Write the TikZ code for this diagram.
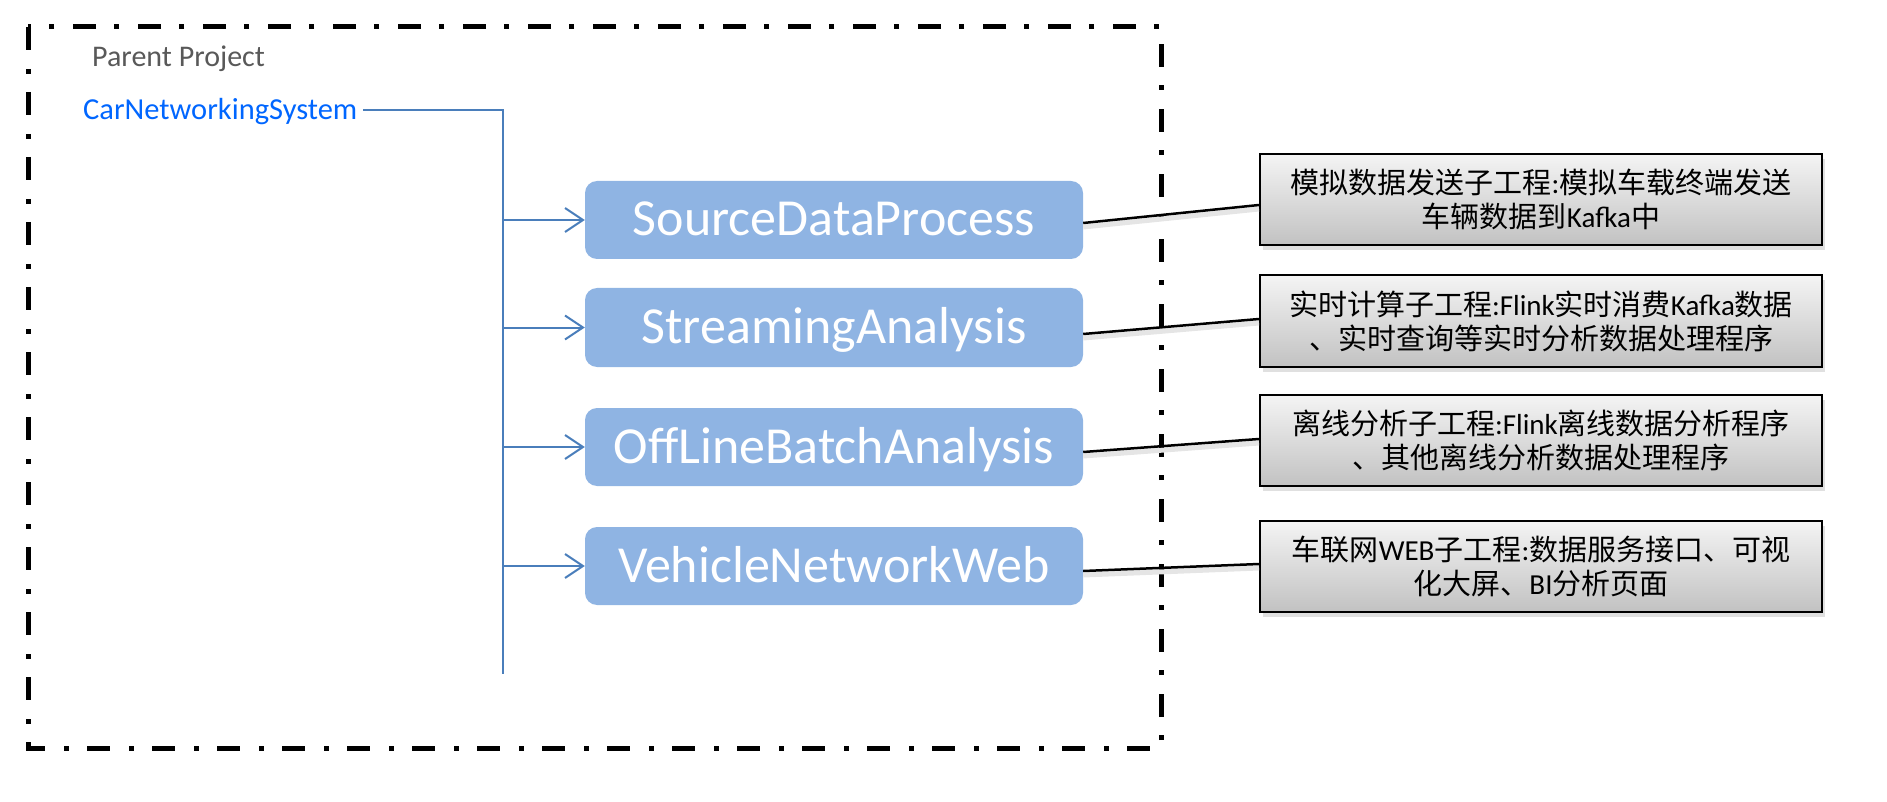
\documentclass[tikz,border=0pt]{standalone}
\usepackage{fontspec}
\setmainfont{Carlito}
\newfontfamily\cjk{Noto Sans CJK SC}
\usetikzlibrary{arrows.meta,shadows}
\definecolor{boxblue}{HTML}{8FB4E3}
\definecolor{linkblue}{HTML}{4A7EBB}
\definecolor{titlegray}{HTML}{595959}
\definecolor{nameblue}{HTML}{0066FF}
\definecolor{noteTop}{HTML}{F4F4F4}
\definecolor{noteBot}{HTML}{C2C2C2}
\newcommand\latn[1]{{\rmfamily #1}}
\begin{document}
\begin{tikzpicture}[x=1pt,y=-1pt,
  subbox/.style={rectangle, rounded corners=12pt, fill=boxblue, text=white,
    font=\fontsize{52}{60}\selectfont, minimum width=498pt, minimum height=78pt,
    inner sep=0pt, text height=32pt, text depth=0pt},
  notebox/.style={rectangle, draw=black, line width=2pt, top color=noteTop,
    bottom color=noteBot, minimum width=562pt, minimum height=91pt, inner sep=0pt,
    align=center, font=\cjk\fontsize{29}{34}\selectfont,
    drop shadow={shadow xshift=3pt, shadow yshift=-5pt, fill=black, opacity=0.12}},
  branch/.style={draw=linkblue, line width=2pt},
  barb/.style={branch, -{Straight Barb[length=18pt,width=24pt]}},
  link/.style={draw=black, line width=2.5pt,
    preaction={draw=black!10, line width=5pt, transform canvas={yshift=-4pt}}},
  frame/.style={draw=black, line width=5pt, dash pattern=on 23pt off 19pt on 5pt off 18pt},
  label/.style={anchor=base west, inner sep=0pt}
]
\useasboundingbox (0,0) rectangle (1887,802);
\draw[frame] (28,27) rectangle (1161,748);

\node[label, text=titlegray, font=\fontsize{30}{36}\selectfont] (parent) at (92,67) {Parent Project};
\node[label, text=nameblue, font=\fontsize{30.5}{36}\selectfont] (cns) at (83,120) {CarNetworkingSystem};

\node[subbox] (b1) at (834,220) {SourceDataProcess};
\node[subbox, minimum height=79pt] (b2) at (834,327.5) {StreamingAnalysis};
\node[subbox] (b3) at (834,447) {OffLineBatchAnalysis};
\node[subbox] (b4) at (834,566) {VehicleNetworkWeb};

\node[notebox] (g1) at (1541,199.5) {模拟数据发送子工程\latn{:}模拟车载终端发送\\车辆数据到\latn{Kafka}中};
\node[notebox] (g2) at (1541,321) {实时计算子工程\latn{:Flink}实时消费\latn{Kafka}数据\\、实时查询等实时分析数据处理程序};
\node[notebox] (g3) at (1541,440.5) {离线分析子工程\latn{:Flink}离线数据分析程序\\、其他离线分析数据处理程序};
\node[notebox] (g4) at (1541,566) {车联网\latn{WEB}子工程\latn{:}数据服务接口、可视\\化大屏、\latn{BI}分析页面};

\coordinate (trunktop) at (503,110);
\coordinate (trunkbot) at (503,674);
\draw[branch] ([xshift=6pt]cns.east |- trunktop) -- (trunktop) -- (trunkbot);
\draw[barb] (b1.west -| trunktop) -- (b1.west);
\draw[barb] (b2.west -| trunktop) -- (b2.west);
\draw[barb] (b3.west -| trunktop) -- (b3.west);
\draw[barb] (b4.west -| trunktop) -- (b4.west);

\draw[link] ([yshift=-3pt]b1.east) -- ([yshift=-5.5pt]g1.west);
\draw[link] ([yshift=-6.5pt]b2.east) -- ([yshift=2pt]g2.west);
\draw[link] ([yshift=-5pt]b3.east) -- ([yshift=1.5pt]g3.west);
\draw[link] ([yshift=-5pt]b4.east) -- ([yshift=2pt]g4.west);
\end{tikzpicture}
\end{document}
